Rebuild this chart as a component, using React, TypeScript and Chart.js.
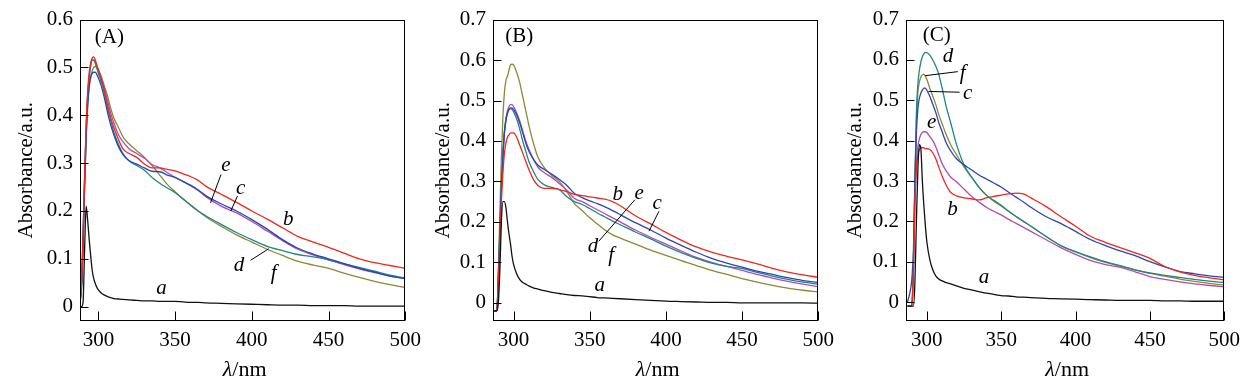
import React, { useEffect, useRef } from 'react';
import { Chart, registerables } from 'chart.js';

Chart.register(...registerables);

// ---------- data ----------
const WAVELENGTHS = [287, 289, 290, 291, 292, 293, 294, 295, 296, 297, 298, 299, 300, 302, 304, 306, 308, 310, 313, 316, 320, 325, 330, 335, 340, 345, 350, 355, 360, 365, 370, 380, 390, 400, 410, 420, 430, 440, 450, 460, 470, 480, 490, 500];
const X_TICKS = [300, 350, 400, 450, 500];
const Y_TICKS_A = [0, 0.1, 0.2, 0.3, 0.4, 0.5, 0.6];
const Y_TICKS_BC = [0, 0.1, 0.2, 0.3, 0.4, 0.5, 0.6, 0.7];

// Panel A
const A_a = [0, 0, 0.01, 0.12, 0.21, 0.18, 0.14, 0.105, 0.075, 0.058, 0.048, 0.04, 0.035, 0.028, 0.024, 0.021, 0.019, 0.017, 0.016, 0.015, 0.014, 0.013, 0.012, 0.012, 0.011, 0.011, 0.011, 0.01, 0.009, 0.009, 0.008, 0.007, 0.006, 0.005, 0.004, 0.003, 0.003, 0.002, 0.002, 0.002, 0.001, 0.001, 0.001, 0.001];
const A_b = [-0.005, 0.05, 0.15, 0.27, 0.38, 0.45, 0.49, 0.51, 0.52, 0.522, 0.515, 0.505, 0.495, 0.475, 0.45, 0.42, 0.395, 0.375, 0.35, 0.33, 0.32, 0.312, 0.298, 0.29, 0.29, 0.287, 0.284, 0.278, 0.272, 0.264, 0.252, 0.235, 0.218, 0.2, 0.183, 0.165, 0.147, 0.135, 0.124, 0.112, 0.1, 0.092, 0.086, 0.08];
const A_c = [-0.005, 0.04, 0.13, 0.25, 0.35, 0.42, 0.46, 0.48, 0.488, 0.49, 0.49, 0.485, 0.478, 0.46, 0.435, 0.405, 0.38, 0.36, 0.335, 0.318, 0.305, 0.298, 0.29, 0.283, 0.282, 0.275, 0.27, 0.262, 0.254, 0.244, 0.232, 0.215, 0.2, 0.182, 0.162, 0.14, 0.122, 0.11, 0.1, 0.09, 0.08, 0.072, 0.064, 0.058];
const A_d = [-0.005, 0.05, 0.15, 0.27, 0.37, 0.44, 0.48, 0.505, 0.515, 0.515, 0.508, 0.498, 0.488, 0.468, 0.445, 0.415, 0.39, 0.365, 0.34, 0.32, 0.305, 0.295, 0.285, 0.27, 0.258, 0.248, 0.238, 0.226, 0.212, 0.2, 0.19, 0.172, 0.155, 0.14, 0.126, 0.117, 0.109, 0.104, 0.098, 0.09, 0.082, 0.074, 0.066, 0.06];
const A_e = [-0.005, 0.05, 0.15, 0.27, 0.37, 0.44, 0.48, 0.505, 0.515, 0.515, 0.51, 0.5, 0.49, 0.475, 0.455, 0.43, 0.405, 0.385, 0.36, 0.345, 0.33, 0.32, 0.31, 0.297, 0.29, 0.28, 0.27, 0.262, 0.253, 0.243, 0.23, 0.21, 0.196, 0.178, 0.158, 0.138, 0.12, 0.108, 0.098, 0.088, 0.079, 0.071, 0.064, 0.059];
const A_f = [-0.005, 0.04, 0.13, 0.25, 0.35, 0.42, 0.46, 0.48, 0.493, 0.5, 0.502, 0.5, 0.495, 0.48, 0.46, 0.44, 0.415, 0.395, 0.375, 0.355, 0.34, 0.326, 0.312, 0.295, 0.275, 0.255, 0.24, 0.225, 0.213, 0.2, 0.188, 0.168, 0.15, 0.135, 0.12, 0.107, 0.095, 0.087, 0.08, 0.07, 0.061, 0.053, 0.046, 0.04];

// Panel B
const B_a = [-0.02, -0.02, 0.0, 0.08, 0.2, 0.25, 0.25, 0.235, 0.2, 0.17, 0.145, 0.115, 0.095, 0.072, 0.058, 0.05, 0.046, 0.042, 0.037, 0.034, 0.03, 0.026, 0.023, 0.02, 0.018, 0.017, 0.015, 0.013, 0.012, 0.011, 0.01, 0.008, 0.006, 0.004, 0.003, 0.002, 0.001, 0.001, 0.0, 0.0, 0.0, 0.0, 0.0, -0.001];
const B_b = [-0.02, -0.02, 0.05, 0.15, 0.25, 0.32, 0.37, 0.395, 0.41, 0.415, 0.42, 0.42, 0.42, 0.41, 0.39, 0.37, 0.35, 0.33, 0.305, 0.29, 0.283, 0.283, 0.28, 0.275, 0.268, 0.265, 0.262, 0.259, 0.256, 0.25, 0.24, 0.215, 0.195, 0.174, 0.155, 0.138, 0.125, 0.115, 0.106, 0.096, 0.085, 0.076, 0.069, 0.063];
const B_c = [-0.02, -0.02, 0.06, 0.17, 0.28, 0.36, 0.42, 0.45, 0.468, 0.478, 0.482, 0.482, 0.478, 0.465, 0.445, 0.42, 0.395, 0.375, 0.355, 0.34, 0.33, 0.318, 0.305, 0.29, 0.27, 0.26, 0.252, 0.245, 0.237, 0.228, 0.218, 0.198, 0.18, 0.16, 0.142, 0.125, 0.11, 0.098, 0.088, 0.078, 0.07, 0.062, 0.055, 0.05];
const B_d = [-0.02, -0.02, 0.07, 0.18, 0.29, 0.37, 0.425, 0.455, 0.47, 0.478, 0.48, 0.478, 0.472, 0.455, 0.43, 0.4, 0.375, 0.35, 0.325, 0.305, 0.292, 0.285, 0.28, 0.262, 0.25, 0.243, 0.233, 0.222, 0.212, 0.202, 0.193, 0.175, 0.158, 0.14, 0.124, 0.11, 0.098, 0.09, 0.085, 0.075, 0.066, 0.058, 0.051, 0.046];
const B_e = [-0.02, -0.02, 0.06, 0.17, 0.28, 0.36, 0.42, 0.455, 0.475, 0.485, 0.49, 0.49, 0.485, 0.47, 0.45, 0.425, 0.4, 0.38, 0.355, 0.335, 0.322, 0.31, 0.295, 0.278, 0.258, 0.25, 0.24, 0.23, 0.22, 0.21, 0.2, 0.18, 0.162, 0.145, 0.128, 0.112, 0.1, 0.09, 0.08, 0.07, 0.061, 0.053, 0.046, 0.04];
const B_f = [-0.02, -0.02, 0.08, 0.22, 0.36, 0.46, 0.52, 0.55, 0.56, 0.575, 0.588, 0.59, 0.588, 0.57, 0.545, 0.51, 0.475, 0.44, 0.395, 0.36, 0.335, 0.315, 0.3, 0.275, 0.245, 0.228, 0.21, 0.195, 0.18, 0.168, 0.16, 0.145, 0.13, 0.117, 0.104, 0.092, 0.08, 0.07, 0.06, 0.051, 0.043, 0.036, 0.031, 0.027];

// Panel C
const C_a = [-0.01, -0.01, -0.01, -0.01, 0.05, 0.2, 0.33, 0.39, 0.38, 0.3, 0.24, 0.19, 0.15, 0.105, 0.08, 0.065, 0.057, 0.053, 0.048, 0.045, 0.04, 0.034, 0.03, 0.026, 0.022, 0.019, 0.016, 0.015, 0.013, 0.012, 0.011, 0.009, 0.008, 0.007, 0.006, 0.005, 0.004, 0.004, 0.004, 0.003, 0.003, 0.002, 0.002, 0.002];
const C_b = [-0.01, -0.01, -0.005, 0.08, 0.25, 0.33, 0.365, 0.378, 0.382, 0.383, 0.382, 0.38, 0.38, 0.378, 0.37, 0.355, 0.335, 0.315, 0.29, 0.272, 0.263, 0.258, 0.256, 0.253, 0.258, 0.262, 0.265, 0.268, 0.27, 0.268, 0.258, 0.237, 0.212, 0.188, 0.163, 0.148, 0.135, 0.122, 0.108, 0.088, 0.075, 0.066, 0.06, 0.055];
const C_c = [0.0, 0.03, 0.06, 0.13, 0.3, 0.42, 0.48, 0.505, 0.518, 0.525, 0.53, 0.53, 0.525, 0.51, 0.49, 0.47, 0.445, 0.425, 0.395, 0.375, 0.355, 0.34, 0.328, 0.315, 0.305, 0.295, 0.285, 0.272, 0.26, 0.248, 0.235, 0.212, 0.195, 0.175, 0.155, 0.14, 0.127, 0.115, 0.1, 0.087, 0.076, 0.07, 0.065, 0.061];
const C_d = [-0.01, -0.01, -0.005, 0.1, 0.3, 0.47, 0.54, 0.575, 0.595, 0.608, 0.615, 0.618, 0.618, 0.612, 0.6, 0.585, 0.565, 0.535, 0.485, 0.445, 0.39, 0.34, 0.31, 0.285, 0.265, 0.252, 0.24, 0.225, 0.212, 0.2, 0.188, 0.163, 0.14, 0.125, 0.112, 0.1, 0.09, 0.08, 0.072, 0.066, 0.061, 0.056, 0.052, 0.048];
const C_e = [-0.01, -0.01, -0.005, 0.08, 0.25, 0.34, 0.385, 0.405, 0.415, 0.42, 0.422, 0.422, 0.42, 0.41, 0.4, 0.385, 0.365, 0.345, 0.325, 0.31, 0.298, 0.28, 0.262, 0.248, 0.235, 0.225, 0.216, 0.205, 0.195, 0.185, 0.175, 0.155, 0.135, 0.118, 0.103, 0.093, 0.086, 0.075, 0.063, 0.056, 0.05, 0.045, 0.041, 0.038];
const C_f = [-0.01, -0.01, -0.005, 0.1, 0.3, 0.45, 0.52, 0.545, 0.558, 0.563, 0.565, 0.56, 0.552, 0.53, 0.51, 0.49, 0.465, 0.445, 0.415, 0.39, 0.365, 0.335, 0.31, 0.285, 0.265, 0.25, 0.238, 0.225, 0.212, 0.2, 0.188, 0.163, 0.14, 0.124, 0.11, 0.098, 0.089, 0.08, 0.071, 0.064, 0.057, 0.051, 0.046, 0.042];

// annotation texts, placed in data coordinates (wavelength, absorbance)
type Label = { t: string; x: number; y: number; italic?: boolean };
type Leader = [number, number, number, number];

const A_LABELS: Label[] = [
  { t: '(A)', x: 307.1, y: 0.563, italic: false },
  { t: 'e', x: 383.1, y: 0.296 },
  { t: 'c', x: 392.7, y: 0.248 },
  { t: 'b', x: 423.8, y: 0.183 },
  { t: 'd', x: 391.7, y: 0.087 },
  { t: 'f', x: 414.2, y: 0.07 },
  { t: 'a', x: 341.1, y: 0.039 },
];
const A_LEADERS: Leader[] = [
  [379.9, 0.276, 373.1, 0.217],
  [390.6, 0.231, 386.3, 0.2],
  [399.2, 0.097, 411, 0.121],
];
const B_LABELS: Label[] = [
  { t: '(B)', x: 303.7, y: 0.659, italic: false },
  { t: 'b', x: 368.4, y: 0.267 },
  { t: 'e', x: 382.5, y: 0.271 },
  { t: 'c', x: 394.3, y: 0.246 },
  { t: 'd', x: 352.2, y: 0.14 },
  { t: 'f', x: 364.1, y: 0.116 },
  { t: 'a', x: 356.6, y: 0.042 },
];
const B_LEADERS: Leader[] = [
  [379.6, 0.2545, 355.9, 0.152],
  [395.4, 0.226, 388.9, 0.177],
];
const C_LABELS: Label[] = [
  { t: '(C)', x: 306.6, y: 0.66, italic: false },
  { t: 'd', x: 314.2, y: 0.608 },
  { t: 'f', x: 324.1, y: 0.567 },
  { t: 'c', x: 327.4, y: 0.518 },
  { t: 'e', x: 303.3, y: 0.445 },
  { t: 'b', x: 317.2, y: 0.229 },
  { t: 'a', x: 338.5, y: 0.061 },
];
const C_LEADERS: Leader[] = [
  [320.8, 0.571, 298.9, 0.561],
  [322, 0.52, 301.1, 0.522],
];

// ---------- style / layout ----------
const FONT = '"Liberation Serif", "Times New Roman", Times, serif';
const COLORS: Record<string, string> = {
  a: '#111111',
  b: '#f0281c',
  c: '#2a46b2',
  d: '#1f8684',
  e: '#b04cb2',
  f: '#8a8934',
};
const KEYS = ['a', 'b', 'c', 'd', 'e', 'f'];
const H = 386;

const PANELS = [
  { left: 0, width: 428, areaLeft: 80, areaRight: 410, titleX: 26, xMin: 288, yMin: -0.03, yMax: 0.6, yTicks: Y_TICKS_A,
    series: { a: A_a, b: A_b, c: A_c, d: A_d, e: A_e, f: A_f } as Record<string, number[]>, labels: A_LABELS, leaders: A_LEADERS },
  { left: 420, width: 421, areaLeft: 493, areaRight: 823, titleX: 443.5, xMin: 286.5, yMin: -0.045, yMax: 0.7, yTicks: Y_TICKS_BC,
    series: { a: B_a, b: B_b, c: B_c, d: B_d, e: B_e, f: B_f } as Record<string, number[]>, labels: B_LABELS, leaders: B_LEADERS },
  { left: 835, width: 412, areaLeft: 906, areaRight: 1230, titleX: 855.5, xMin: 286, yMin: -0.047, yMax: 0.7, yTicks: Y_TICKS_BC,
    series: { a: C_a, b: C_b, c: C_c, d: C_d, e: C_e, f: C_f } as Record<string, number[]>, labels: C_LABELS, leaders: C_LEADERS },
];

type PanelCfg = (typeof PANELS)[number];

function Panel({ p }: { p: PanelCfg }) {
  const ref = useRef<HTMLCanvasElement>(null);
  useEffect(() => {
    const canvas = ref.current;
    if (!canvas) return;
    const datasets = KEYS.map((k) => ({
      label: k,
      data: WAVELENGTHS.map((x, i) => ({ x, y: p.series[k][i] })),
      borderColor: COLORS[k],
      backgroundColor: COLORS[k],
      borderWidth: 1.3,
      pointRadius: 0,
      fill: false,
      cubicInterpolationMode: 'monotone' as const,
    }));

    const decor = {
      id: 'decor',
      afterDraw(chart: any) {
        const { ctx, chartArea: ca, scales } = chart;
        const xs = scales.x;
        const ys = scales.y;
        ctx.save();
        ctx.strokeStyle = '#000';
        ctx.lineWidth = 1;
        const L = Math.round(ca.left) + 0.5;
        const R = Math.round(ca.right) - 0.5;
        const T = Math.round(ca.top) + 0.5;
        const B = Math.round(ca.bottom) - 0.5;
        ctx.strokeRect(L, T, R - L, B - T);
        ctx.beginPath();
        for (const v of X_TICKS) {
          const px = Math.round(xs.getPixelForValue(v)) + 0.5;
          ctx.moveTo(px, B);
          ctx.lineTo(px, B - 9);
        }
        for (const v of p.yTicks) {
          const py = Math.round(ys.getPixelForValue(v)) + 0.5;
          ctx.moveTo(L, py);
          ctx.lineTo(L + 8, py);
        }
        for (const [x1, y1, x2, y2] of p.leaders) {
          ctx.moveTo(xs.getPixelForValue(x1), ys.getPixelForValue(y1));
          ctx.lineTo(xs.getPixelForValue(x2), ys.getPixelForValue(y2));
        }
        ctx.stroke();

        ctx.fillStyle = '#000';
        ctx.textAlign = 'center';
        ctx.textBaseline = 'middle';
        for (const lb of p.labels) {
          ctx.font = `${lb.italic === false ? '' : 'italic '}21px ${FONT}`;
          ctx.fillText(lb.t, xs.getPixelForValue(lb.x), ys.getPixelForValue(lb.y));
        }

        // x title: italic lambda + "/nm"
        ctx.textBaseline = 'alphabetic';
        ctx.textAlign = 'left';
        const italicFont = `italic 22px ${FONT}`;
        const normalFont = `22px ${FONT}`;
        ctx.font = italicFont;
        const w1 = ctx.measureText('λ').width;
        ctx.font = normalFont;
        const w2 = ctx.measureText('/nm').width;
        const cx = (ca.left + ca.right) / 2 + 2;
        const x0 = cx - (w1 + w2) / 2;
        const baseY = 376;
        ctx.font = italicFont;
        ctx.fillText('λ', x0, baseY);
        ctx.font = normalFont;
        ctx.fillText('/nm', x0 + w1, baseY);
        ctx.restore();
      },
    };

    const chart = new Chart(canvas, {
      type: 'line',
      data: { datasets: datasets as any },
      options: {
        animation: false,
        responsive: false,
        devicePixelRatio: 1,
        events: [],
        layout: { padding: { left: 0, right: p.left + p.width - p.areaRight, top: 16, bottom: 0 } },
        plugins: { legend: { display: false }, tooltip: { enabled: false } },
        scales: {
          x: {
            type: 'linear',
            min: p.xMin,
            max: 500,
            grid: { display: false, drawTicks: false },
            border: { display: false },
            afterBuildTicks: (s: any) => {
              s.ticks = X_TICKS.map((v) => ({ value: v }));
            },
            afterFit: (s: any) => {
              s.height = H - 321;
            },
            ticks: {
              padding: 7,
              color: '#000',
              font: { family: FONT, size: 21 },
              maxRotation: 0,
              callback: (v: any) => String(v),
            },
          },
          y: {
            type: 'linear',
            min: p.yMin,
            max: p.yMax,
            grid: { display: false, drawTicks: false },
            border: { display: false },
            afterBuildTicks: (s: any) => {
              s.ticks = p.yTicks.map((v) => ({ value: v }));
            },
            afterFit: (s: any) => {
              s.width = p.areaLeft - p.left;
            },
            ticks: {
              padding: 7,
              color: '#000',
              font: { family: FONT, size: 21 },
              callback: (v: any) => (Number(v) === 0 ? '0' : Number(v).toFixed(1)),
            },
            title: {
              display: true,
              text: 'Absorbance/a.u.',
              color: '#000',
              font: { family: FONT, size: 21 },
              padding: { top: p.titleX - p.left - 12.6, bottom: 0 },
            },
          },
        },
      } as any,
      plugins: [decor],
    });
    return () => chart.destroy();
  }, [p]);

  return (
    <canvas
      ref={ref}
      width={p.width}
      height={H}
      style={{ position: 'absolute', left: p.left, top: 0, width: p.width, height: H }}
    />
  );
}

export default function App() {
  return (
    <div style={{ position: 'absolute', left: 0, top: 0, width: 1247, height: H, background: '#fff', overflow: 'hidden' }}>
      {PANELS.map((p, i) => (
        <Panel key={i} p={p} />
      ))}
    </div>
  );
}
